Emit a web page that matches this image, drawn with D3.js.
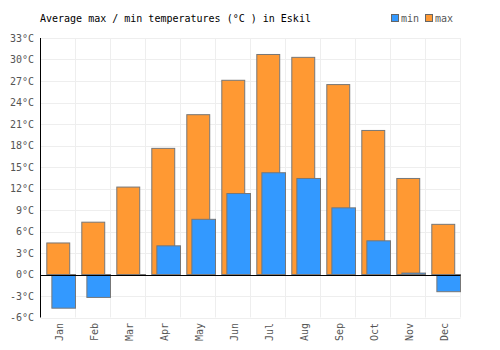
<!DOCTYPE html>
<html>
<head>
<meta charset="utf-8">
<script src="https://cdn.jsdelivr.net/npm/d3@7"></script>
<style>
  body { margin: 0; background: #fff; }
  svg text { font-family: "DejaVu Sans Mono", monospace; font-size: 10px; }
</style>
</head>
<body>
<svg id="chart" width="500" height="350"></svg>
<script>
var months = ["Jan", "Feb", "Mar", "Apr", "May", "Jun", "Jul", "Aug", "Sep", "Oct", "Nov", "Dec"];
var maxTemps = [4.4, 7.3, 12.2, 17.6, 22.3, 27.1, 30.7, 30.3, 26.5, 20.1, 13.4, 7.0];
var minTemps = [-4.7, -3.2, -0.1, 4.0, 7.7, 11.3, 14.2, 13.4, 9.3, 4.7, 0.2, -2.4];
var yTicks = [-6, -3, 0, 3, 6, 9, 12, 15, 18, 21, 24, 27, 30, 33];
var title = "Average max / min temperatures (°C ) in Eskil";

var svg = d3.select("#chart");
// plot edges (names avoid clashing with window.top)
var plotL = 40.5, plotR = 460.5, plotT = 38, plotB = 317.5;

var x = d3.scaleBand().domain(months).range([plotL, plotR]).padding(0);
var y = d3.scaleLinear().domain([-6, 33]).range([plotB, plotT]);
var bw = x.bandwidth();

// grid
var grid = svg.append("g").attr("stroke", "#eeeeee").attr("stroke-width", 1);
grid.selectAll("line.h")
    .data(yTicks)
    .enter().append("line")
        .attr("x1", plotL).attr("x2", plotR)
        .attr("y1", d => Math.round(y(d)) + 0.5)
        .attr("y2", d => Math.round(y(d)) + 0.5);
grid.selectAll("line.v")
    .data(months)
    .enter().append("line")
        .attr("x1", d => x(d) + bw)
        .attr("x2", d => x(d) + bw)
        .attr("y1", plotT).attr("y2", plotB);

// max bars
svg.append("g")
    .selectAll("rect")
    .data(maxTemps)
    .enter().append("rect")
        .attr("x", (d, i) => x(months[i]) + bw * 0.18)
        .attr("width", bw * 0.655)
        .attr("y", d => y(Math.max(0, d)))
        .attr("height", d => Math.abs(y(d) - y(0)))
        .attr("fill", "#ff9933")
        .attr("stroke", "#777777")
        .attr("stroke-width", 1);

// min bars
svg.append("g")
    .selectAll("rect")
    .data(minTemps)
    .enter().append("rect")
        .attr("x", (d, i) => x(months[i]) + bw * 0.325)
        .attr("width", bw * 0.675)
        .attr("y", d => y(Math.max(0, d)))
        .attr("height", d => Math.abs(y(d) - y(0)))
        .attr("fill", "#3399ff")
        .attr("stroke", "#777777")
        .attr("stroke-width", 1);

// axes lines
svg.append("line")
    .attr("x1", plotL).attr("x2", plotL)
    .attr("y1", plotT).attr("y2", plotB)
    .attr("stroke", "#000").attr("stroke-width", 1);
svg.append("line")
    .attr("x1", plotL).attr("x2", plotR)
    .attr("y1", Math.round(y(0)) + 0.5).attr("y2", Math.round(y(0)) + 0.5)
    .attr("stroke", "#000").attr("stroke-width", 1);

// y labels
svg.append("g")
    .selectAll("text")
    .data(yTicks)
    .enter().append("text")
        .attr("x", 34)
        .attr("y", d => y(d))
        .attr("dy", "0.35em")
        .attr("text-anchor", "end")
        .attr("fill", "#555")
        .text(d => d + "°C");

// x labels
svg.append("g")
    .selectAll("text")
    .data(months)
    .enter().append("text")
        .attr("transform", d => "translate(" + (x(d) + bw / 2 + 1) + ",323) rotate(-90)")
        .attr("dy", "0.35em")
        .attr("text-anchor", "end")
        .attr("fill", "#555")
        .text(d => d);

// title
svg.append("text")
    .attr("x", 40)
    .attr("y", 22)
    .attr("fill", "#000")
    .text(title);

// legend
var legend = [["min", "#3399ff", 391], ["max", "#ff9933", 425]];
var lg = svg.append("g").selectAll("g").data(legend).enter().append("g");
lg.append("rect")
    .attr("x", d => d[2] + 0.5).attr("y", 14.5)
    .attr("width", 7).attr("height", 7)
    .attr("fill", d => d[1])
    .attr("stroke", "#666").attr("stroke-width", 1);
lg.append("text")
    .attr("x", d => d[2] + 10)
    .attr("y", 22)
    .attr("fill", "#555")
    .text(d => d[0]);
</script>
</body>
</html>
